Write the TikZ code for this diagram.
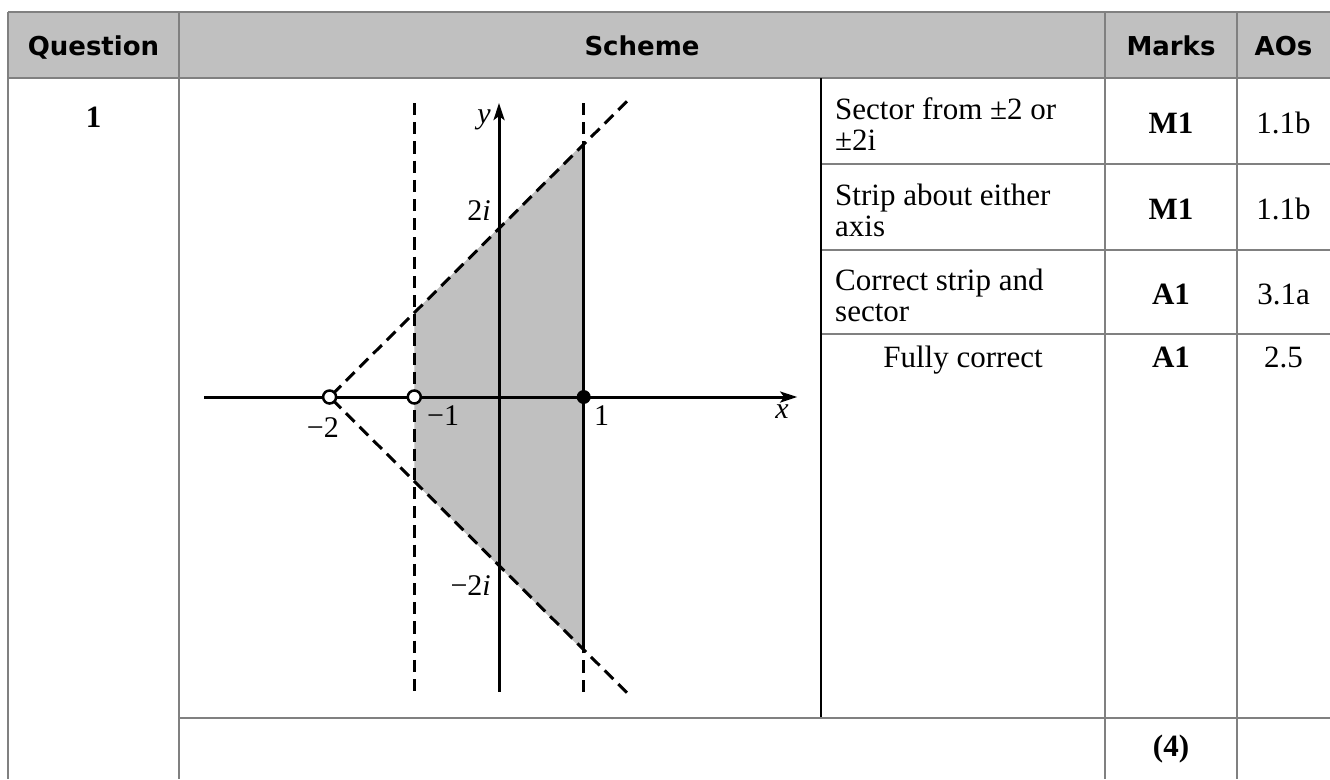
\documentclass[tikz,border=0pt]{standalone}
\usepackage{fontspec}
\setmainfont{Liberation Serif}
\newfontfamily\hdrfont{DejaVu Sans}
\usetikzlibrary{arrows.meta}
\definecolor{hdrgray}{HTML}{C0C0C0}
\definecolor{gridgray}{HTML}{808080}
\definecolor{shadegray}{HTML}{C0C0C0}
\newcommand{\hdrsize}{\hdrfont\bfseries\fontsize{26}{30}\selectfont}
\newcommand{\cellsize}{\fontsize{31}{31}\selectfont}
\newcommand{\lblsize}{\fontsize{30}{30}\selectfont}
\begin{document}
\begin{tikzpicture}[x=1pt,y=-1pt,
  gridline/.style={draw=gridgray, line width=2.5pt},
  hdr/.style={font=\hdrsize, anchor=base, inner sep=0pt},
  celltxt/.style={font=\cellsize, inner sep=0pt},
  markstxt/.style={font=\cellsize\bfseries, anchor=base, inner sep=0pt},
  aotxt/.style={font=\cellsize, anchor=base, inner sep=0pt},
  lbl/.style={font=\lblsize, inner sep=0pt},
  axisline/.style={line width=3pt, line cap=butt},
  dashln/.style={line width=3pt, dash pattern=on 12.2pt off 7pt},
  tip/.style={-{Stealth[length=17pt,width=11pt,inset=4pt]}},
  opendot/.style={circle, draw=black, fill=white, line width=2.5pt, minimum size=13pt, inner sep=0pt},
  fulldot/.style={circle, fill=black, minimum size=14pt, inner sep=0pt}]
\useasboundingbox (0,0) rectangle (1330,779);

% header background
\fill[hdrgray] (8,12) rectangle (1330,78);

% graph
\begin{scope}[shift={(499,397)}, x=84.7pt, y=84.7pt]
  \coordinate (O) at (0,0);
  \coordinate (pm2) at (-2,0);
  \coordinate (pm1) at (-1,0);
  \coordinate (p1) at (1,0);
  \coordinate (xl) at (-3.48,0);
  \coordinate (xr) at (3.52,0);
  \coordinate (yb) at (0,-3.48);
  \coordinate (yt) at (0,3.47);
  \coordinate (ul) at (-1,1);
  \coordinate (ur) at (1,3);
  \coordinate (lr) at (1,-3);
  \coordinate (ll) at (-1,-1);
  \coordinate (ue) at (1.51,3.49);
  \coordinate (le) at (1.51,-3.49);
  \coordinate (vmt) at (-1,3.47);
  \coordinate (vmb) at (-1,-3.48);
  \coordinate (vpt) at (1,3.47);
  \coordinate (vpb) at (1,-3.48);
  \fill[shadegray] (ul) -- (ur) -- (lr) -- (ll) -- cycle;
  \draw[dashln] (vmt) -- (vmb);
  \draw[dashln] (vpt) -- (ur);
  \draw[dashln] (vpb) -- (lr);
  \draw[dashln] (ue) -- (pm2);
  \draw[dashln] (le) -- (pm2);
  \draw[axisline] (ur) -- (lr);
  \draw[axisline, tip] (xl) -- (xr);
  \draw[axisline, tip] (yb) -- (yt);
  \node[opendot] (d1) at (pm2) {};
  \node[opendot] (d2) at (pm1) {};
  \node[fulldot] (d3) at (p1) {};
\end{scope}

% graph labels
\node[lbl, anchor=base east] (ly) at (491,123) {\itshape y};
\node[lbl, anchor=base east] (l2i) at (491,220) {2\itshape i};
\node[lbl, anchor=base east] (lm2i) at (491,595) {−2\itshape i};
\node[lbl, anchor=base east] (lm2) at (339,437) {−2};
\node[lbl, anchor=base west] (lm1) at (427,425) {−1};
\node[lbl, anchor=base west] (l1) at (594,425) {1};
\node[lbl, anchor=base east] (lx) at (789,418) {\itshape x};

% table lines
\draw[gridline] (8,12) -- (1330,12);
\draw[gridline] (8,78) -- (1330,78);
\draw[gridline] (8,12) -- (8,779);
\draw[gridline] (179,12) -- (179,779);
\draw[gridline] (1105,12) -- (1105,779);
\draw[gridline] (1237,12) -- (1237,779);
\draw[gridline] (821,164) -- (1330,164);
\draw[gridline] (821,250) -- (1330,250);
\draw[gridline] (821,334) -- (1330,334);
\draw[gridline] (179,718) -- (1330,718);
\draw[line width=2.2pt] (821,78) -- (821,717);

% header texts
\node[hdr] (hq) at (93.5,55) {Question};
\node[hdr] (hs) at (642,55) {Scheme};
\node[hdr] (hm) at (1171,55) {Marks};
\node[hdr] (ha) at (1283.5,55) {AOs};

% question number
\node[markstxt] (qn) at (93.5,127) {1};

% scheme texts
\node[celltxt, anchor=west, align=left] (s1) at (835,124) {Sector from ±2 or\\±2i};
\node[celltxt, anchor=west, align=left] (s2) at (835,210) {Strip about either\\axis};
\node[celltxt, anchor=west, align=left] (s3) at (835,295) {Correct strip and\\sector};
\node[celltxt, anchor=base] (s4) at (963,367) {Fully correct};

% marks
\node[markstxt] (m1) at (1171,133) {M1};
\node[markstxt] (m2) at (1171,219) {M1};
\node[markstxt] (m3) at (1171,304) {A1};
\node[markstxt] (m4) at (1171,367) {A1};
\node[markstxt] (m5) at (1171,756) {(4)};

% AOs
\node[aotxt] (a1) at (1283.5,133) {1.1b};
\node[aotxt] (a2) at (1283.5,219) {1.1b};
\node[aotxt] (a3) at (1283.5,304) {3.1a};
\node[aotxt] (a4) at (1283.5,367) {2.5};
\end{tikzpicture}
\end{document}
